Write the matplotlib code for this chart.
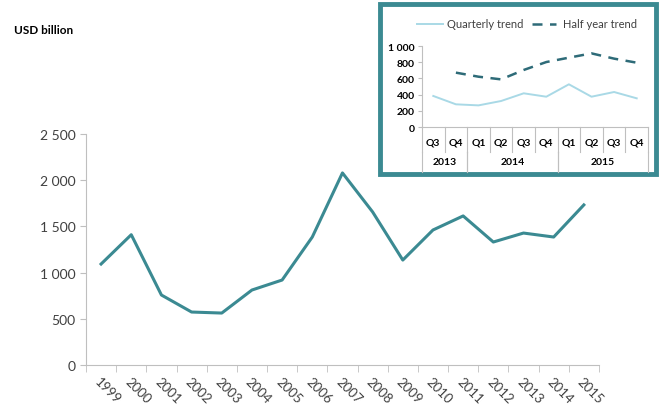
import numpy as np
import matplotlib.pyplot as plt
from matplotlib.patches import Rectangle
from matplotlib.lines import Line2D
from matplotlib.ticker import FuncFormatter

# annual values, USD billion
years = [str(y) for y in range(1999, 2016)]
annual = [1093, 1410, 758, 574, 563, 812, 920, 1385, 2078, 1656, 1136,
          1461, 1613, 1331, 1428, 1385, 1732]

# inset: quarterly data
quarters = ['Q3', 'Q4', 'Q1', 'Q2', 'Q3', 'Q4', 'Q1', 'Q2', 'Q3', 'Q4']
quarter_years = ['2013', '2014', '2015']
year_spans = [(0, 2), (2, 6), (6, 10)]  # category index ranges
quarterly = [383, 280, 267, 321, 416, 374, 527, 374, 432, 354]
half_year = [np.nan, 671, 621, 588, 704, 802, 856, 909, 844, 794]

teal = '#3b8a92'
light = '#a9d9e6'
dark = '#2e6b78'
grey = '#bfbfbf'
txt = '#404040'

plt.rcParams['font.family'] = ['Lato', 'DejaVu Sans']


def thousands(v, pos):
    return f'{int(v):,}'.replace(',', ' ')


fig = plt.figure(figsize=(6.64, 4.10), dpi=100)

# main chart
ax = fig.add_axes([0.1295, 0.107, 0.7725, 0.564])
x = np.arange(len(years))
ax.plot(x, annual, color=teal, lw=2.2)
ax.set_xlim(-0.5, len(years) - 0.5)
ax.set_ylim(0, 2500)
ax.set_yticks(np.arange(0, 2501, 500))
ax.yaxis.set_major_formatter(FuncFormatter(thousands))
ax.set_xticks(x)
ax.set_xticklabels(years, rotation=-45, ha='left', va='top', rotation_mode='anchor')
ax.set_xticks(np.arange(-0.5, len(years), 1), minor=True)
ax.tick_params(axis='x', which='major', length=0, pad=7, labelsize=9.5, labelcolor=txt)
ax.tick_params(axis='x', which='minor', length=5, color=grey)
ax.tick_params(axis='y', length=4, color=grey, labelsize=10, labelcolor=txt)
for s in ['top', 'right']:
    ax.spines[s].set_visible(False)
for s in ['left', 'bottom']:
    ax.spines[s].set_color(grey)

fig.text(14 / 664, 1 - 30 / 410, 'USD billion', fontsize=8.5, fontweight='bold',
         color='black', va='center')

# inset box
box = Rectangle((380 / 664, 1 - 175 / 410), 276 / 664, 170 / 410,
                transform=fig.transFigure, facecolor='white', edgecolor=teal,
                lw=3.5, zorder=5)
fig.patches.append(box)

ins = fig.add_axes([422 / 664, 1 - 128 / 410, 226 / 664, 81 / 410], zorder=6)
ins.patch.set_alpha(0)
xq = np.arange(len(quarters))
ins.plot(xq, quarterly, color=light, lw=1.4)
ins.plot(xq, half_year, color=dark, lw=1.8, dashes=(4, 3))
ins.set_xlim(-0.5, len(quarters) - 0.5)
ins.set_ylim(0, 1000)
ins.set_yticks(np.arange(0, 1001, 200))
ins.yaxis.set_major_formatter(FuncFormatter(thousands))
ins.tick_params(axis='y', length=3, color=grey, labelsize=7.5, pad=2)
for lab in ins.get_yticklabels():
    lab.set_fontweight('bold')
ins.set_xticks([])
for s in ['top', 'right']:
    ins.spines[s].set_visible(False)
for s in ['left', 'bottom']:
    ins.spines[s].set_color(grey)

# two-row category axis
tr = ins.get_xaxis_transform()
row_h = 25 / 81
for i, q in enumerate(quarters):
    ins.text(i, -15 / 81, q, transform=tr, ha='center', va='center',
             fontsize=7.5, fontweight='bold', color='black')
for b in range(len(quarters) + 1):
    ins.add_line(Line2D([b - 0.5, b - 0.5], [0, -row_h], transform=tr,
                        color=grey, lw=0.8, clip_on=False))
for (a, e), yr in zip(year_spans, quarter_years):
    ins.text((a + e - 1) / 2, -35 / 81, yr, transform=tr, ha='center',
             va='center', fontsize=7.5, fontweight='bold', color='black')
    for b in (a, e):
        ins.add_line(Line2D([b - 0.5, b - 0.5], [-row_h, -45 / 81], transform=tr,
                            color=grey, lw=0.8, clip_on=False))

# legend
fig.add_artist(Line2D([417 / 664, 443 / 664], [1 - 25 / 410] * 2, color=light, lw=1.4, zorder=7))
fig.text(447 / 664, 1 - 25 / 410, 'Quarterly trend', fontsize=8, color=txt,
         va='center', zorder=7)
fig.add_artist(Line2D([532 / 664, 556 / 664], [1 - 25 / 410] * 2, color=dark, lw=1.8,
                      dashes=(4, 3), zorder=7))
fig.text(563 / 664, 1 - 25 / 410, 'Half year trend', fontsize=8, color=txt,
         va='center', zorder=7)

fig.savefig('out.png', dpi=100)
